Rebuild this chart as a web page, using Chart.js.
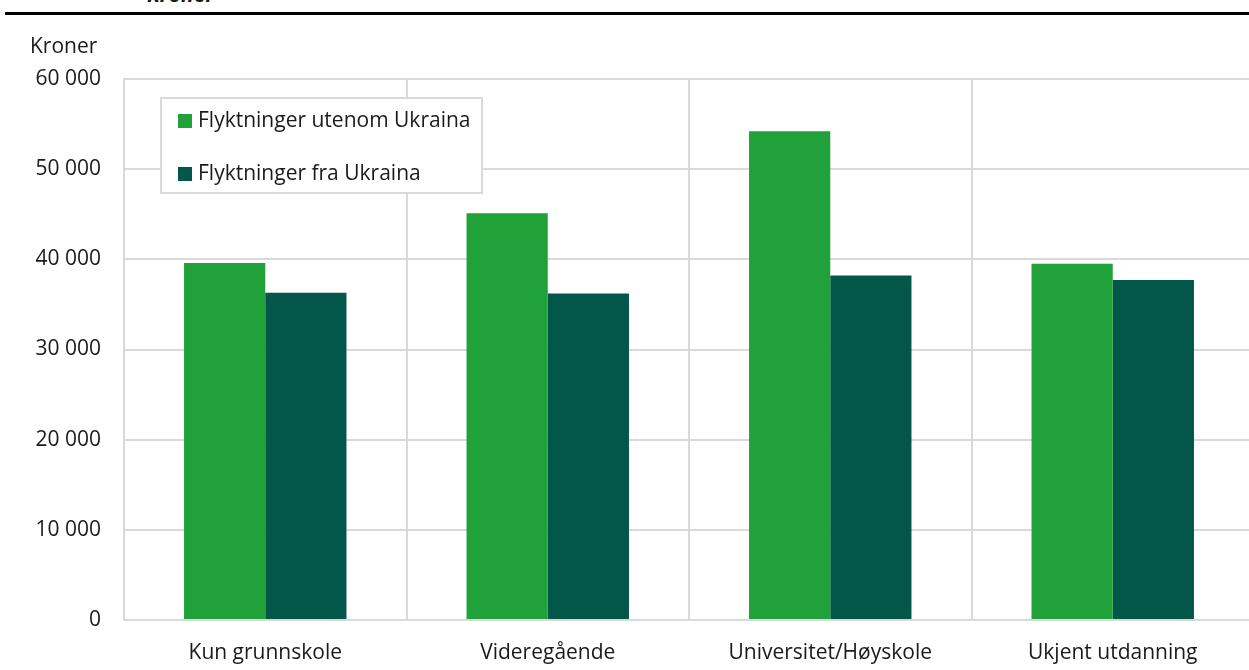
<!doctype html>
<html lang="no">

<head>
    <meta charset="utf-8">
    <title>Inntekt etter utdanning</title>
    <style>
        * {
            margin: 0;
            padding: 0;
        }

        body {
            width: 1249px;
            height: 670px;
            overflow: hidden;
            background: white;
            position: relative;
            font-family: "Open Sans", sans-serif;
        }

        .topTitle {
            position: absolute;
            left: 147px;
            top: -20px;
            font-size: 21px;
            font-weight: bold;
            font-style: italic;
            color: #1a1a1a;
        }

        .topRule {
            position: absolute;
            left: 5px;
            top: 12px;
            width: 1250px;
            height: 3px;
            background: #000;
        }

        .chartBox {
            position: absolute;
            left: 0;
            top: 0;
            width: 1262px;
            height: 670px;
        }
    </style>
</head>

<body>
    <div class="topTitle">Kroner</div>
    <div class="topRule"></div>
    <div class="chartBox">
        <canvas id="myChart"></canvas>
    </div>

    <script src="https://cdn.jsdelivr.net/npm/chart.js"></script>

    <script>
        const categories = ['Kun grunnskole', 'Videregående', 'Universitet/Høyskole', 'Ukjent utdanning']
        const seriesNames = ['Flyktninger utenom Ukraina', 'Flyktninger fra Ukraina']
        const utenomUkraina = [39600, 45100, 54200, 39500]
        const fraUkraina = [36300, 36200, 38200, 37700]
        const seriesColors = ['#21a139', '#02574a']
        const yTicks = [0, 10000, 20000, 30000, 40000, 50000, 60000]
        const unitLabel = 'Kroner'

        const fontFamily = '"Open Sans", sans-serif'
        const gridColor = '#d9d9d9'

        // legend box + unit label drawn on top of chart
        const boxLegend = {
            id: 'boxLegend',
            afterDraw(chart) {
                const ctx = chart.ctx
                ctx.save()
                ctx.fillStyle = '#fff'
                ctx.fillRect(160, 97, 323, 97)
                ctx.strokeStyle = gridColor
                ctx.lineWidth = 2
                ctx.strokeRect(161, 98, 321, 95)
                ctx.font = '21px ' + fontFamily
                ctx.textBaseline = 'middle'
                chart.data.datasets.forEach((ds, i) => {
                    const y = 121 + i * 53
                    ctx.fillStyle = ds.backgroundColor
                    ctx.fillRect(178, y - 7, 14, 14)
                    ctx.fillStyle = '#1a1a1a'
                    ctx.fillText(ds.label, 198, y)
                })
                ctx.textAlign = 'left'
                ctx.fillText(unitLabel, 30, 47)
                ctx.restore()
            }
        }

        const dataSets = seriesNames.map((name, index) => {
            return {
                label: name,
                data: [utenomUkraina, fraUkraina][index],
                backgroundColor: seriesColors[index],
                borderWidth: 0,
                categoryPercentage: 0.575,
                barPercentage: 1
            }
        })

        const config = {
            type: 'bar',
            data: {
                labels: categories,
                datasets: dataSets
            },
            options: {
                responsive: true,
                maintainAspectRatio: false,
                animation: false,
                layout: {
                    padding: { left: 0, top: 79, right: 8, bottom: 0 }
                },
                plugins: {
                    legend: { display: false },
                    tooltip: { enabled: false }
                },
                scales: {
                    x: {
                        grid: {
                            color: gridColor,
                            lineWidth: 2,
                            offset: true,
                            drawTicks: false
                        },
                        border: { color: gridColor, width: 2 },
                        ticks: {
                            color: '#1a1a1a',
                            font: { family: fontFamily, size: 21 },
                            padding: 20
                        },
                        afterFit(scale) {
                            scale.height = 50
                        }
                    },
                    y: {
                        min: 0,
                        max: 60000,
                        afterBuildTicks(scale) {
                            scale.ticks = yTicks.map(v => ({ value: v }))
                        },
                        grid: {
                            color: gridColor,
                            lineWidth: 2,
                            drawTicks: false
                        },
                        border: { color: gridColor, width: 2 },
                        ticks: {
                            color: '#1a1a1a',
                            font: { family: fontFamily, size: 21 },
                            padding: 23,
                            callback: function (value) {
                                return value.toLocaleString('en-US').replace(/,/g, ' ')
                            }
                        },
                        afterFit(scale) {
                            scale.width = 124
                        }
                    }
                }
            },
            plugins: [boxLegend]
        }

        const myChart = new Chart(
            document.getElementById('myChart'),
            config
        )
    </script>
</body>

</html>
